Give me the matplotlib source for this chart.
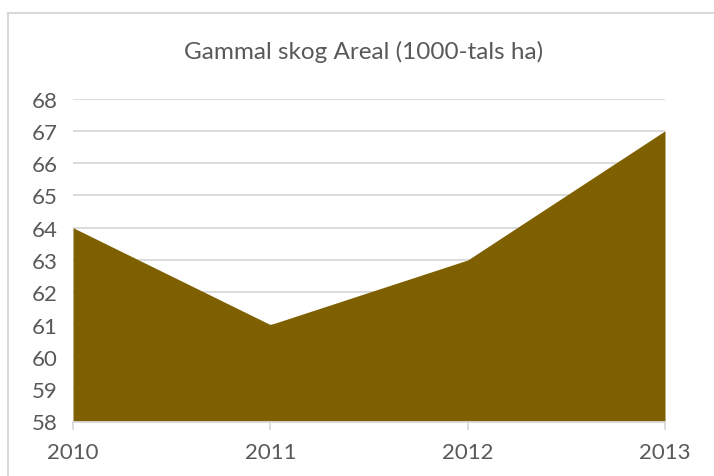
import matplotlib.pyplot as plt
from matplotlib.patches import Rectangle

years = ['2010', '2011', '2012', '2013']
areal = [64, 61, 63, 67]
y_ticks = list(range(58, 69))
title = 'Gammal skog Areal (1000-tals ha)'

plt.rcParams['font.family'] = ['Lato', 'DejaVu Sans']

W, H = 714, 477
fig = plt.figure(figsize=(W / 100, H / 100), dpi=100)

# chart frame (runs off the right and bottom edges)
fig.patches.append(Rectangle((8 / W, -0.1), 1.2, (H - 14) / H + 0.1,
                             transform=fig.transFigure, fill=False,
                             edgecolor='#d9d9d9', linewidth=1.5))

left, right, top, bottom = 73, 665, 99.5, 422.5
ax = fig.add_axes([left / W, 1 - bottom / H, (right - left) / W, (bottom - top) / H])

x = list(range(len(years)))
ax.fill_between(x, y_ticks[0], areal, color='#7f6000', linewidth=0, zorder=2)

ax.set_xlim(0, len(years) - 1)
ax.set_ylim(y_ticks[0], y_ticks[-1])
ax.set_yticks(y_ticks)
ax.set_xticks(x)
ax.set_xticklabels(years)
ax.grid(axis='y', color='#d9d9d9', linewidth=1.3, zorder=0)
for s in ['top', 'right', 'left']:
    ax.spines[s].set_visible(False)
ax.spines['bottom'].set_color('#d9d9d9')
ax.spines['bottom'].set_linewidth(1.3)
ax.spines['bottom'].set_zorder(3)
ax.tick_params(axis='y', length=0, pad=11, labelsize=16, labelcolor='#595959')
ax.tick_params(axis='x', length=5.8, width=1.3, color='#d9d9d9', pad=9,
               labelsize=16, labelcolor='#595959')

fig.text(364 / W, 1 - 52 / H, title, ha='center', va='center',
         fontsize=17.5, color='#595959')

fig.savefig('out.png', dpi=100)
